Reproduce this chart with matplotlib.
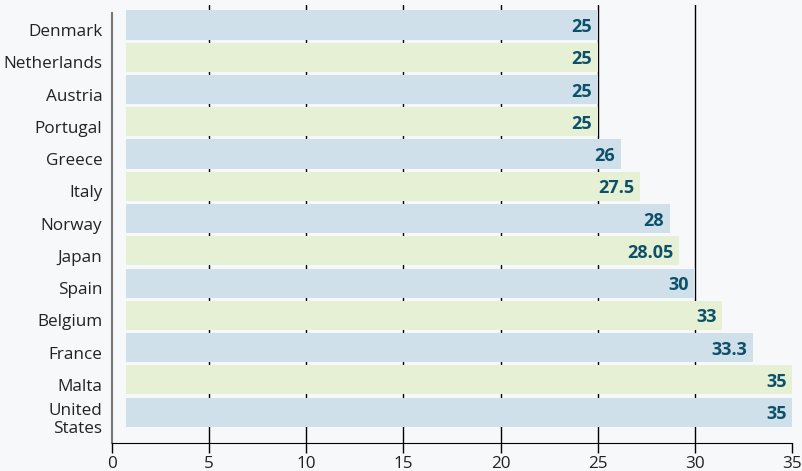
import matplotlib.pyplot as plt

# data
countries = ['Denmark', 'Netherlands', 'Austria', 'Portugal', 'Greece', 'Italy',
             'Norway', 'Japan', 'Spain', 'Belgium', 'France', 'Malta', 'United\nStates']
# printed values
labels = ['25', '25', '25', '25', '26', '27.5', '28', '28.05', '30', '33', '33.3', '35', '35']
# bar ends as drawn in the reference (they don't quite match the printed values)
bar_ends = [25, 25, 25, 25, 26.2, 27.2, 28.7, 29.2, 30, 31.4, 33.0, 35, 35]

plt.rcParams['font.family'] = ['Open Sans', 'DejaVu Sans']

bg = '#f7f8fa'
fig = plt.figure(figsize=(8.02, 4.71), dpi=100, facecolor=bg)
ax = fig.add_axes([0.1397, 0.0594, 0.8478, 0.93])
ax.set_facecolor(bg)

colors = ['#cfe0ea' if i % 2 == 0 else '#e5f0d5' for i in range(len(bar_ends))]
y = list(range(len(bar_ends)))
start = 0.7
ax.barh(y, [b - start for b in bar_ends], left=start, height=0.9, color=colors, zorder=2)

for i, (b, lab) in enumerate(zip(bar_ends, labels)):
    ax.annotate(lab, xy=(b, i), xytext=(-4, -1.5), textcoords='offset points',
                ha='right', va='center', fontsize=13, fontweight='bold',
                color='#0d5069', zorder=3)

ax.set_xlim(0, 35)
ax.set_ylim(len(bar_ends) - 1 + 0.96, -0.62)
ax.set_xticks(range(0, 36, 5))
# country names sit a little below the bar centres in the original
ax.set_yticks([i + 0.16 for i in y])
ax.set_yticklabels(countries, linespacing=1.15)

for gx in range(5, 35, 5):
    ax.axvline(gx, color='black', lw=1, zorder=1)

for s in ['top', 'right']:
    ax.spines[s].set_visible(False)
ax.spines['left'].set_color('#777777')
ax.spines['left'].set_linewidth(1.5)
ax.spines['left'].set_bounds(len(bar_ends) - 1 + 0.96, -0.37)
ax.spines['bottom'].set_color('black')

ax.tick_params(axis='y', length=0, pad=7, labelsize=12.3, labelcolor='#222222')
ax.tick_params(axis='x', length=7, width=1, color='black', direction='out',
               labelsize=12.3, labelcolor='#222222', pad=2)

fig.savefig('out.png', dpi=100, facecolor=bg)
